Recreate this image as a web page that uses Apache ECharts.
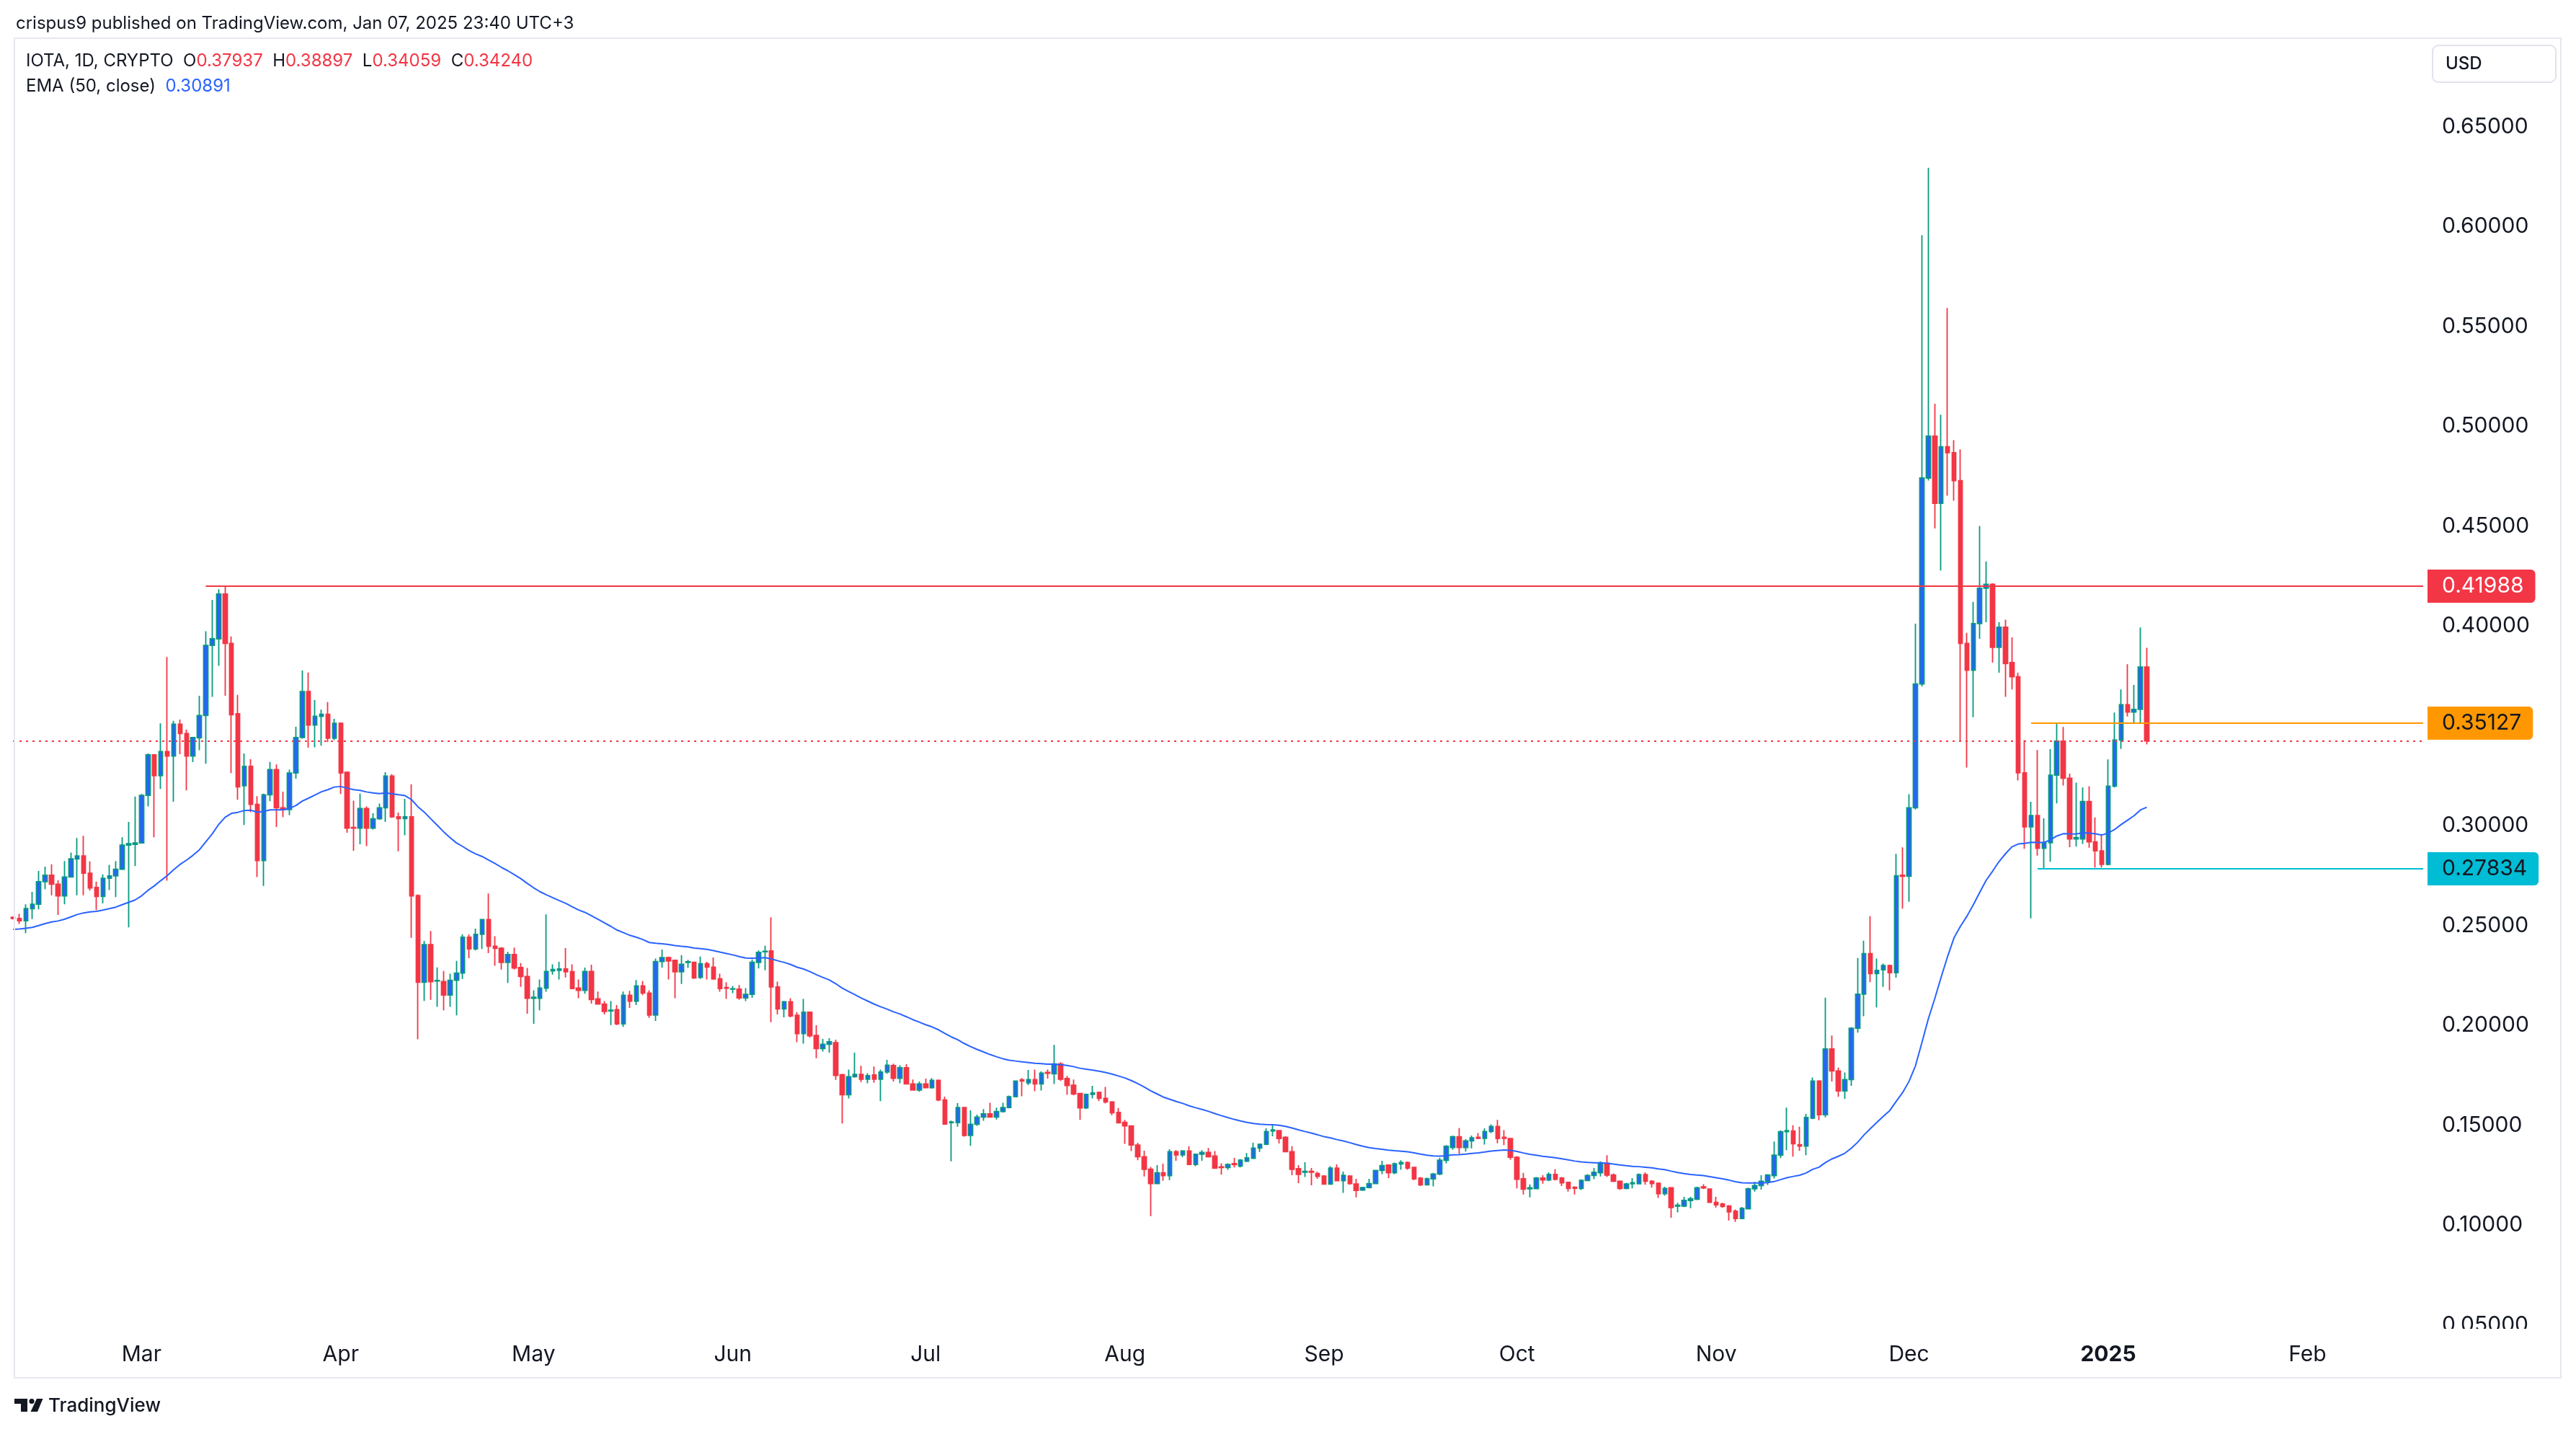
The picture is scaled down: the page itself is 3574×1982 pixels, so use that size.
<!DOCTYPE html>
<html>
<head>
<meta charset="utf-8">
<script src="https://cdn.jsdelivr.net/npm/echarts@6/dist/echarts.min.js"></script>
<style>
html,body{margin:0;padding:0;background:#ffffff;}
#chart{width:3574px;height:1982px;}
</style>
</head>
<body>
<div id="chart"></div>
<script>
// ---------- DATA (daily IOTA/USD candles, rows are [open, high, low, close]) ----------
const firstDay = '2024-02-10';
const lastAxisDay = '2025-02-19';

const feb2024 = [
[0.2540,0.2545,0.2530,0.2535],[0.2535,0.2558,0.2507,0.2523],[0.2523,0.2606,0.2461,0.2584],[0.2584,0.2668,0.2532,0.2606],
[0.2606,0.2773,0.2580,0.2719],[0.2719,0.2794,0.2681,0.2751],[0.2751,0.2806,0.2651,0.2706],[0.2706,0.2726,0.2552,0.2648],
[0.2648,0.2822,0.2606,0.2742],[0.2742,0.2865,0.2739,0.2833],[0.2833,0.2938,0.2651,0.2848],[0.2848,0.2949,0.2651,0.2761],
[0.2761,0.2820,0.2674,0.2687],[0.2690,0.2719,0.2577,0.2645],[0.2645,0.2755,0.2610,0.2736],[0.2736,0.2803,0.2677,0.2748],
[0.2748,0.2822,0.2642,0.2781],[0.2781,0.2941,0.2777,0.2902],[0.2902,0.3018,0.2490,0.2909],[0.2906,0.3145,0.2797,0.2913]
];
const mar2024 = [
[0.2913,0.3158,0.2910,0.3151],[0.3151,0.3361,0.3096,0.3354],[0.3354,0.3357,0.2941,0.3250],[0.3250,0.3512,0.3183,0.3370],
[0.3370,0.3844,0.2724,0.3348],[0.3348,0.3524,0.3119,0.3508],[0.3508,0.3531,0.3357,0.3461],[0.3461,0.3480,0.3176,0.3348],
[0.3348,0.3444,0.3318,0.3441],[0.3439,0.3650,0.3377,0.3551],[0.3551,0.3973,0.3310,0.3902],[0.3902,0.4130,0.3644,0.3935],
[0.3935,0.4183,0.3800,0.4159],[0.4159,0.41988,0.3650,0.3912],[0.3912,0.3947,0.3263,0.3555],[0.3560,0.3654,0.3129,0.3194],
[0.3199,0.3361,0.3003,0.3296],[0.3296,0.3332,0.3067,0.3106],[0.3106,0.3147,0.2742,0.2825],[0.2825,0.3160,0.2698,0.3154],
[0.3154,0.3319,0.3122,0.3280],[0.3280,0.3306,0.2993,0.3089],[0.3089,0.3170,0.3042,0.3080],[0.3080,0.3280,0.3052,0.3263],
[0.3263,0.3495,0.3235,0.3441],[0.3441,0.3776,0.3435,0.3671],[0.3671,0.3766,0.3390,0.3503],[0.3503,0.3628,0.3392,0.3547],
[0.3547,0.3580,0.3400,0.3557],[0.3557,0.3618,0.3418,0.3437],[0.3437,0.3534,0.3428,0.3512]
];
const apr2024 = [
[0.3512,0.3516,0.3158,0.3263],[0.3267,0.3271,0.2964,0.2987],[0.2990,0.3125,0.2874,0.2987],[0.2987,0.3160,0.2906,0.3085],
[0.3085,0.3096,0.2897,0.2987],[0.2987,0.3061,0.2980,0.3034],[0.3034,0.3110,0.3029,0.3089],[0.3089,0.3267,0.3018,0.3248],
[0.3248,0.3257,0.3038,0.3044],[0.3044,0.3065,0.2871,0.3035],[0.3035,0.3134,0.2951,0.3044],[0.3044,0.3207,0.2438,0.2648],
[0.2649,0.2655,0.1930,0.2215],[0.2215,0.2422,0.2122,0.2404],[0.2404,0.2472,0.2127,0.2218],[0.2222,0.2290,0.2092,0.2224],
[0.2219,0.2272,0.2075,0.2151],[0.2151,0.2258,0.2092,0.2225],[0.2225,0.2322,0.2050,0.2261],[0.2261,0.2455,0.2232,0.2441],
[0.2441,0.2455,0.2336,0.2382],[0.2382,0.2484,0.2375,0.2455],[0.2455,0.2532,0.2382,0.2529],[0.2529,0.2660,0.2361,0.2396],
[0.2396,0.2446,0.2298,0.2385],[0.2386,0.2391,0.2279,0.2315],[0.2315,0.2368,0.2212,0.2354],[0.2354,0.2389,0.2279,0.2287],
[0.2289,0.2311,0.2192,0.2244],[0.2244,0.2287,0.2058,0.2135]
];
const may2024 = [
[0.2135,0.2175,0.2007,0.2140],[0.2135,0.2229,0.2075,0.2186],[0.2186,0.2555,0.2168,0.2269],[0.2272,0.2305,0.2254,0.2279],
[0.2275,0.2318,0.2229,0.2282],[0.2282,0.2386,0.2239,0.2268],[0.2268,0.2305,0.2184,0.2184],[0.2186,0.2229,0.2135,0.2175],
[0.2175,0.2289,0.2158,0.2269],[0.2269,0.2303,0.2108,0.2129],[0.2132,0.2169,0.2106,0.2106],[0.2106,0.2121,0.2054,0.2069],
[0.2072,0.2121,0.2001,0.2075],[0.2078,0.2101,0.2001,0.2007],[0.2007,0.2169,0.1992,0.2150],[0.2150,0.2172,0.2087,0.2121],
[0.2121,0.2227,0.2101,0.2197],[0.2197,0.2221,0.2151,0.2161],[0.2161,0.2175,0.2037,0.2051],[0.2051,0.2334,0.2022,0.2319],
[0.2319,0.2379,0.2289,0.2339],[0.2339,0.2344,0.2229,0.2322],[0.2325,0.2325,0.2135,0.2268],[0.2268,0.2351,0.2207,0.2305],
[0.2315,0.2328,0.2287,0.2318],[0.2315,0.2319,0.2232,0.2237],[0.2240,0.2344,0.2232,0.2308],[0.2308,0.2318,0.2229,0.2291],
[0.2291,0.2339,0.2229,0.2232],[0.2232,0.2258,0.2168,0.2184],[0.2189,0.2215,0.2132,0.2186]
];
const jun2024 = [
[0.2181,0.2197,0.2161,0.2183],[0.2181,0.2201,0.2127,0.2137],[0.2137,0.2186,0.2121,0.2155],[0.2155,0.2329,0.2137,0.2315],
[0.2315,0.2375,0.2284,0.2365],[0.2368,0.2398,0.2275,0.2370],[0.2372,0.2541,0.2015,0.2192],[0.2192,0.2218,0.2054,0.2082],
[0.2082,0.2122,0.2040,0.2118],[0.2118,0.2135,0.2040,0.2047],[0.2050,0.2065,0.1915,0.1958],[0.1958,0.2132,0.1908,0.2065],
[0.2065,0.2065,0.1939,0.1947],[0.1949,0.2000,0.1835,0.1883],[0.1883,0.1931,0.1868,0.1905],[0.1905,0.1935,0.1863,0.1917],
[0.1913,0.1928,0.1727,0.1749],[0.1752,0.1757,0.1508,0.1652],[0.1652,0.1778,0.1634,0.1742],[0.1742,0.1863,0.1737,0.1754],
[0.1754,0.1797,0.1716,0.1730],[0.1730,0.1760,0.1709,0.1748],[0.1751,0.1793,0.1712,0.1730],[0.1730,0.1778,0.1620,0.1766],
[0.1766,0.1827,0.1757,0.1800],[0.1798,0.1808,0.1718,0.1734],[0.1734,0.1800,0.1709,0.1787],[0.1787,0.1805,0.1706,0.1706],
[0.1706,0.1728,0.1673,0.1676],[0.1676,0.1718,0.1667,0.1706]
];
const jul2024 = [
[0.1706,0.1733,0.1685,0.1687],[0.1687,0.1736,0.1682,0.1724],[0.1724,0.1728,0.1620,0.1626],[0.1626,0.1643,0.1502,0.1505],
[0.1512,0.1523,0.1319,0.1516],[0.1512,0.1610,0.1492,0.1588],[0.1588,0.1588,0.1442,0.1448],[0.1448,0.1574,0.1396,0.1504],
[0.1504,0.1552,0.1496,0.1540],[0.1540,0.1580,0.1522,0.1556],[0.1556,0.1612,0.1540,0.1540],[0.1540,0.1588,0.1528,0.1568],
[0.1568,0.1612,0.1562,0.1588],[0.1588,0.1648,0.1584,0.1642],[0.1642,0.1724,0.1640,0.1721],[0.1727,0.1736,0.1644,0.1721],
[0.1712,0.1776,0.1700,0.1728],[0.1728,0.1778,0.1670,0.1706],[0.1706,0.1769,0.1673,0.1760],[0.1764,0.1778,0.1733,0.1760],
[0.1757,0.1902,0.1706,0.1806],[0.1806,0.1815,0.1721,0.1730],[0.1733,0.1746,0.1652,0.1698],[0.1700,0.1728,0.1649,0.1656],
[0.1658,0.1661,0.1526,0.1586],[0.1586,0.1658,0.1580,0.1654],[0.1654,0.1697,0.1634,0.1661],[0.1664,0.1668,0.1620,0.1634],
[0.1634,0.1691,0.1608,0.1616],[0.1616,0.1620,0.1550,0.1562],[0.1564,0.1586,0.1508,0.1511]
];
const aug2024 = [
[0.1514,0.1526,0.1406,0.1496],[0.1496,0.1499,0.1370,0.1400],[0.1400,0.1412,0.1324,0.1342],[0.1342,0.1372,0.1243,0.1279],
[0.1279,0.1291,0.1044,0.1207],[0.1207,0.1300,0.1204,0.1261],[0.1261,0.1307,0.1221,0.1247],[0.1247,0.1379,0.1225,0.1367],
[0.1367,0.1375,0.1321,0.1351],[0.1351,0.1375,0.1339,0.1370],[0.1370,0.1394,0.1300,0.1303],[0.1303,0.1354,0.1294,0.1354],
[0.1354,0.1375,0.1321,0.1363],[0.1363,0.1385,0.1338,0.1342],[0.1345,0.1370,0.1281,0.1285],[0.1291,0.1309,0.1252,0.1288],
[0.1288,0.1309,0.1276,0.1303],[0.1307,0.1336,0.1288,0.1302],[0.1295,0.1330,0.1288,0.1324],[0.1319,0.1360,0.1315,0.1336],
[0.1334,0.1412,0.1330,0.1385],[0.1385,0.1408,0.1366,0.1404],[0.1404,0.1484,0.1400,0.1468],[0.1471,0.1502,0.1444,0.1476],
[0.1472,0.1476,0.1408,0.1433],[0.1439,0.1444,0.1367,0.1367],[0.1367,0.1394,0.1249,0.1279],[0.1282,0.1300,0.1209,0.1253],
[0.1264,0.1314,0.1240,0.1268],[0.1268,0.1285,0.1199,0.1264],[0.1258,0.1266,0.1231,0.1243]
];
const sep2024 = [
[0.1245,0.1249,0.1201,0.1205],[0.1205,0.1294,0.1201,0.1285],[0.1285,0.1303,0.1222,0.1222],[0.1222,0.1267,0.1161,0.1249],
[0.1245,0.1249,0.1201,0.1207],[0.1205,0.1231,0.1138,0.1173],[0.1175,0.1191,0.1171,0.1187],[0.1187,0.1231,0.1183,0.1207],
[0.1207,0.1276,0.1205,0.1273],[0.1273,0.1321,0.1255,0.1297],[0.1300,0.1300,0.1235,0.1261],[0.1261,0.1312,0.1255,0.1306],
[0.1306,0.1324,0.1276,0.1313],[0.1313,0.1318,0.1276,0.1285],[0.1288,0.1288,0.1225,0.1231],[0.1234,0.1240,0.1195,0.1201],
[0.1201,0.1237,0.1199,0.1231],[0.1231,0.1261,0.1193,0.1255],[0.1255,0.1337,0.1249,0.1324],[0.1324,0.1400,0.1309,0.1394],
[0.1388,0.1448,0.1376,0.1442],[0.1442,0.1486,0.1355,0.1388],[0.1388,0.1430,0.1367,0.1421],[0.1421,0.1448,0.1384,0.1436],
[0.1439,0.1460,0.1430,0.1434],[0.1434,0.1484,0.1403,0.1468],[0.1468,0.1504,0.1460,0.1493],[0.1493,0.1526,0.1409,0.1433],
[0.1439,0.1475,0.1400,0.1434],[0.1433,0.1436,0.1327,0.1339]
];
const oct2024 = [
[0.1339,0.1345,0.1183,0.1229],[0.1231,0.1261,0.1153,0.1179],[0.1181,0.1203,0.1138,0.1186],[0.1182,0.1240,0.1179,0.1235],
[0.1235,0.1249,0.1207,0.1225],[0.1225,0.1264,0.1219,0.1253],[0.1253,0.1279,0.1223,0.1229],[0.1235,0.1240,0.1195,0.1211],
[0.1213,0.1215,0.1167,0.1183],[0.1189,0.1193,0.1153,0.1184],[0.1183,0.1228,0.1175,0.1223],[0.1223,0.1255,0.1219,0.1248],
[0.1248,0.1285,0.1229,0.1264],[0.1261,0.1319,0.1243,0.1307],[0.1309,0.1349,0.1240,0.1250],[0.1250,0.1258,0.1215,0.1219],
[0.1219,0.1223,0.1175,0.1183],[0.1183,0.1211,0.1179,0.1205],[0.1206,0.1235,0.1183,0.1212],[0.1206,0.1258,0.1204,0.1252],
[0.1252,0.1264,0.1201,0.1219],[0.1219,0.1225,0.1187,0.1207],[0.1209,0.1213,0.1135,0.1157],[0.1157,0.1191,0.1147,0.1183],
[0.1186,0.1189,0.1036,0.1087],[0.1094,0.1111,0.1063,0.1099],[0.1094,0.1141,0.1089,0.1123],[0.1122,0.1141,0.1084,0.1131],
[0.1129,0.1191,0.1125,0.1186],[0.1191,0.1204,0.1180,0.1186],[0.1180,0.1183,0.1111,0.1113]
];
const nov2024 = [
[0.1113,0.1141,0.1087,0.1101],[0.1105,0.1111,0.1087,0.1093],[0.1095,0.1099,0.1023,0.1066],[0.1069,0.1078,0.1015,0.1032],
[0.1032,0.1090,0.1030,0.1083],[0.1081,0.1187,0.1078,0.1181],[0.1181,0.1216,0.1167,0.1197],[0.1197,0.1249,0.1177,0.1219],
[0.1218,0.1255,0.1200,0.1250],[0.1247,0.1418,0.1233,0.1350],[0.1350,0.1474,0.1335,0.1467],[0.1467,0.1588,0.1375,0.1472],
[0.1471,0.1499,0.1342,0.1407],[0.1402,0.1492,0.1371,0.1395],[0.1395,0.1556,0.1349,0.1538],[0.1535,0.1738,0.1530,0.1721],
[0.1721,0.1725,0.1524,0.1552],[0.1552,0.2138,0.1539,0.1881],[0.1881,0.1949,0.1718,0.1771],[0.1771,0.1788,0.1642,0.1671],
[0.1671,0.1764,0.1632,0.1728],[0.1728,0.1990,0.1697,0.1985],[0.1985,0.2337,0.1963,0.2156],[0.2156,0.2423,0.2045,0.2359],
[0.2359,0.2546,0.2216,0.2259],[0.2259,0.2334,0.2089,0.2275],[0.2278,0.2309,0.2192,0.2299],[0.2299,0.2303,0.2175,0.2263],
[0.2263,0.2858,0.2238,0.2749],[0.2751,0.2891,0.2584,0.2746]
];
const dec2024 = [
[0.2746,0.3157,0.2618,0.3089],[0.3089,0.4011,0.3080,0.3709],[0.3709,0.5956,0.3697,0.4740],[0.4740,0.6293,0.4727,0.4950],
[0.4950,0.5112,0.4487,0.4613],[0.4613,0.5057,0.4277,0.4897],[0.4897,0.5591,0.4652,0.4867],[0.4867,0.4930,0.4626,0.4727],
[0.4727,0.4884,0.3423,0.3912],[0.3912,0.3965,0.3291,0.3778],[0.3778,0.4120,0.3542,0.4011],[0.4011,0.4500,0.3935,0.4188],
[0.4188,0.4322,0.4018,0.4208],[0.4208,0.4213,0.3816,0.3892],[0.3892,0.4018,0.3765,0.3993],[0.3993,0.4031,0.3644,0.3811],
[0.3816,0.3942,0.3681,0.3745],[0.3745,0.3765,0.3226,0.3264],[0.3264,0.3428,0.2884,0.2993],[0.2993,0.3119,0.2535,0.3050],
[0.3050,0.3378,0.2849,0.2886],[0.2886,0.3036,0.27834,0.2914],[0.2914,0.3383,0.2819,0.3252],[0.3252,0.35127,0.3111,0.3423],
[0.3423,0.3494,0.3200,0.3237],[0.3237,0.3260,0.2892,0.2933],[0.2933,0.3215,0.2894,0.2940],[0.2933,0.3190,0.2908,0.3120],
[0.3120,0.3197,0.2889,0.2918],[0.2918,0.3041,0.2790,0.2873],[0.2873,0.2958,0.2790,0.2806]
];
const jan2025 = [
[0.2806,0.3331,0.2801,0.3197],[0.3197,0.3566,0.3190,0.3428],[0.3428,0.3681,0.3384,0.3605],[0.3605,0.3808,0.3546,0.3568],
[0.3568,0.3704,0.3515,0.3582],[0.3582,0.3992,0.3515,0.3794],[0.37937,0.38897,0.34059,0.34240]
];

const priceTicks = [0.05, 0.10, 0.15, 0.20, 0.25, 0.30, 0.40, 0.45, 0.50, 0.55, 0.60, 0.65];
const resistanceLevel = 0.41988;   // red line
const resistanceFrom = '2024-03-11';
const rangeHigh = 0.35127;         // orange line
const rangeHighFrom = '2024-12-20';
const rangeLow = 0.27834;          // cyan line
const rangeLowFrom = '2024-12-21';
const lastPrice = 0.34240;
const emaPeriod = 50;
const emaStart = 0.2480;           // EMA value at first visible bar
const monthNames = ['Jan','Feb','Mar','Apr','May','Jun','Jul','Aug','Sep','Oct','Nov','Dec'];

// ---------- build ----------
const rows = [].concat(feb2024, mar2024, apr2024, may2024, jun2024, jul2024, aug2024, sep2024, oct2024, nov2024, dec2024, jan2025);
const dates = [];
(function(){
  const a = firstDay.split('-').map(Number), b = lastAxisDay.split('-').map(Number);
  const t1 = Date.UTC(b[0], b[1]-1, b[2]);
  for (let t = Date.UTC(a[0], a[1]-1, a[2]); t <= t1; t += 86400000) {
    dates.push(new Date(t).toISOString().slice(0,10));
  }
})();
const candleData = rows.map(r => [r[0], r[3], r[2], r[1]]);
const k = 2 / (emaPeriod + 1);
let e = emaStart;
const emaData = rows.map((r, i) => { if (i > 0) e = r[3] * k + e * (1 - k); return +e.toFixed(5); });
const lastDate = dates[dates.length - 1];
const FONT = 'Inter, "Noto Sans", Roboto, sans-serif';

const chart = echarts.init(document.getElementById('chart'), null, {renderer: 'canvas'});

function hLine(from, value, color, type, badge, textColor) {
  return [{
    coord: [from, value],
    lineStyle: {color: color, width: 2, type: type},
    label: badge ? {
      show: true, position: 'end', distance: 6,
      formatter: value.toFixed(5),
      backgroundColor: color, color: textColor, fontFamily: FONT, fontSize: 30,
      lineHeight: 30, padding: [8, 16, 8, 20], borderRadius: [0, 6, 6, 0]
    } : {show: false}
  }, {coord: [lastDate, value]}];
}

const option = {
  animation: false,
  backgroundColor: '#ffffff',
  grid: {left: 18, right: 212, top: 54, bottom: 140, containLabel: false},
  xAxis: {
    type: 'category', data: dates, boundaryGap: false,
    axisLine: {show: false}, axisTick: {show: false}, splitLine: {show: false},
    axisLabel: {
      interval: (i, v) => v.slice(8) === '01',
      formatter: v => { const m = +v.slice(5, 7); return m === 1 ? '{y|' + v.slice(0, 4) + '}' : monthNames[m - 1]; },
      color: '#131722', fontFamily: FONT, fontSize: 30, margin: 22,
      rich: {y: {fontWeight: 'bold', fontFamily: FONT, fontSize: 30, color: '#131722'}}
    }
  },
  yAxis: {
    type: 'value', position: 'right', scale: true,
    min: 0.04838, max: 0.69386,
    axisLine: {show: false}, axisTick: {show: false}, splitLine: {show: false},
    axisLabel: {
      customValues: priceTicks, formatter: v => v.toFixed(5),
      color: '#131722', fontFamily: FONT, fontSize: 30, margin: 26
    }
  },
  series: [
    {
      type: 'candlestick', name: 'IOTA', data: candleData, barWidth: 6, clip: true, z: 2,
      itemStyle: {color: '#2962ff', color0: '#f23645', borderColor: '#089981', borderColor0: '#f23645', borderWidth: 1.8}
    },
    {
      type: 'line', name: 'EMA', data: emaData, showSymbol: false, symbol: 'none', z: 3,
      lineStyle: {color: '#2962ff', width: 2}, clip: true
    },
    {
      type: 'line', name: 'levels', data: [], z: 4, silent: true,
      markLine: {
        silent: true, symbol: ['none', 'none'], animation: false,
        data: [
          hLine(dates[0], lastPrice, '#f23645', [3, 6], false),
          hLine(resistanceFrom, resistanceLevel, '#f23645', 'solid', true, '#ffffff'),
          hLine(rangeHighFrom, rangeHigh, '#ff9800', 'solid', true, '#131722'),
          hLine(rangeLowFrom, rangeLow, '#00bcd4', 'solid', true, '#131722')
        ]
      }
    }
  ],
  graphic: [
    {type: 'rect', z: 99, silent: true, shape: {x: 3364, y: 1843, width: 186, height: 66}, style: {fill: '#ffffff'}},
    {type: 'rect', z: 100, silent: true, shape: {x: 20, y: 53, width: 3533, height: 1858}, style: {fill: 'none', stroke: '#e6e8ee', lineWidth: 2}},
    {type: 'rect', z: 100, silent: true, shape: {x: 3375, y: 63, width: 171, height: 51, r: 8}, style: {fill: '#ffffff', stroke: '#e0e3eb', lineWidth: 2}},
    {type: 'text', z: 101, silent: true, x: 3393, y: 89, style: {text: 'USD', fill: '#131722', font: '500 24px ' + FONT, verticalAlign: 'middle'}},
    {type: 'text', z: 101, silent: true, x: 22, y: 33, style: {text: 'crispus9 published on TradingView.com, Jan 07, 2025 23:40 UTC+3', fill: '#131722', font: '24px ' + FONT, verticalAlign: 'middle'}},
    {type: 'text', z: 101, silent: true, x: 36, y: 85, style: {
      text: '{d|IOTA, 1D, CRYPTO}  {d|O}{r|0.37937}  {d|H}{r|0.38897}  {d|L}{r|0.34059}  {d|C}{r|0.34240}',
      verticalAlign: 'middle', font: '24px ' + FONT,
      rich: {d: {fill: '#131722', fontSize: 24, fontFamily: FONT}, r: {fill: '#f23645', fontSize: 24, fontFamily: FONT}}
    }},
    {type: 'text', z: 101, silent: true, x: 36, y: 120, style: {
      text: '{d|EMA (50, close)}  {b|0.30891}',
      verticalAlign: 'middle', font: '24px ' + FONT,
      rich: {d: {fill: '#131722', fontSize: 24, fontFamily: FONT}, b: {fill: '#2962ff', fontSize: 24, fontFamily: FONT}}
    }},
    {type: 'polygon', z: 101, silent: true, shape: {points: [[20,1940],[38,1940],[38,1958],[29,1958],[29,1947],[20,1947]]}, style: {fill: '#131722'}},
    {type: 'circle', z: 101, silent: true, shape: {cx: 44, cy: 1943.5, r: 3.6}, style: {fill: '#131722'}},
    {type: 'polygon', z: 101, silent: true, shape: {points: [[51,1940],[59.5,1940],[52,1958],[42.5,1958]]}, style: {fill: '#131722'}},
    {type: 'text', z: 101, silent: true, x: 67, y: 1950, style: {text: 'TradingView', fill: '#131722', font: '500 26px ' + FONT, verticalAlign: 'middle'}}
  ]
};
chart.setOption(option);
</script>
</body>
</html>
